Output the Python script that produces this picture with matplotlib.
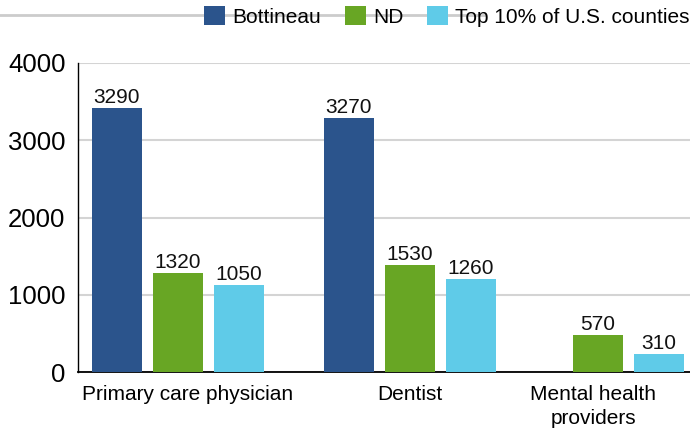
import matplotlib
matplotlib.use("Agg")
import matplotlib.pyplot as plt
from matplotlib.patches import Patch
from matplotlib.lines import Line2D

plt.rcParams['font.family'] = ['Liberation Sans', 'DejaVu Sans']

# ---- data ----
categories = ["Primary care physician", "Dentist", "Mental health\nproviders"]
series = ["Bottineau", "ND", "Top 10% of U.S. counties"]
# bar heights as drawn in the picture
bottineau = [3415, 3290, None]
nd = [1285, 1385, 480]
top10 = [1125, 1205, 235]
# value labels as printed
bottineau_lbl = ["3290", "3270", None]
nd_lbl = ["1320", "1530", "570"]
top10_lbl = ["1050", "1260", "310"]
yticks = [0, 1000, 2000, 3000, 4000]

colors = ["#2B548C", "#68A624", "#5FCBE8"]

# ---- layout ----
W, H = 690, 430
fig = plt.figure(figsize=(W / 100, H / 100), dpi=100)
ax = fig.add_axes([78 / W, (H - 372) / H, (W - 78) / W, (372 - 63) / H])

group_x = [0, 1, 1.81]
offsets = [-0.263, 0, 0.263]
bar_w = 0.2155
tick_x = [0.04, 1, 1.79]

all_vals = [bottineau, nd, top10]
all_lbls = [bottineau_lbl, nd_lbl, top10_lbl]
for s, (vals, lbls) in enumerate(zip(all_vals, all_lbls)):
    for g, (v, lb) in enumerate(zip(vals, lbls)):
        if v is None:
            continue
        xx = group_x[g] + offsets[s]
        ax.bar(xx, v, width=bar_w, color=colors[s], zorder=3)
        ax.annotate(lb, (xx, v), xytext=(0, 0.5), textcoords="offset points",
                    ha="center", va="bottom", fontsize=15, color="#111111")

ax.set_xlim(-0.431, 2.207)
ax.set_ylim(0, 4000)
ax.set_yticks(yticks)
ax.set_yticklabels([str(t) for t in yticks], fontsize=18.5)
ax.set_xticks(tick_x)
ax.set_xticklabels(categories, fontsize=15, linespacing=1.35)
ax.tick_params(axis="x", length=0, pad=9)
ax.tick_params(axis="y", length=0, pad=9)
ax.grid(axis="y", color="#d4d4d4", linewidth=1.5, zorder=0)
ax.set_axisbelow(True)
for sp in ["top", "right"]:
    ax.spines[sp].set_visible(False)
ax.spines["left"].set_linewidth(1.0)
ax.spines["bottom"].set_linewidth(1.3)

# top decorative line (title underline, partly covered by legend)
fig.add_artist(Line2D([0, 485 / W], [1 - 15 / H, 1 - 15 / H], color="#cccccc", lw=2, zorder=0))

handles = [Patch(facecolor=c, edgecolor="none") for c in colors]
leg = fig.legend(handles, series, ncol=3, loc="upper right",
                 bbox_to_anchor=(1.0 + 2 / W, 1 - 4 / H), frameon=True,
                 fontsize=15, handlelength=1.0, handleheight=1.0,
                 handletextpad=0.35, columnspacing=1.15, borderpad=0.1,
                 borderaxespad=0)
leg.get_frame().set_facecolor("white")
leg.get_frame().set_edgecolor("none")
leg.get_frame().set_alpha(0)

fig.savefig("out.png", dpi=100)
